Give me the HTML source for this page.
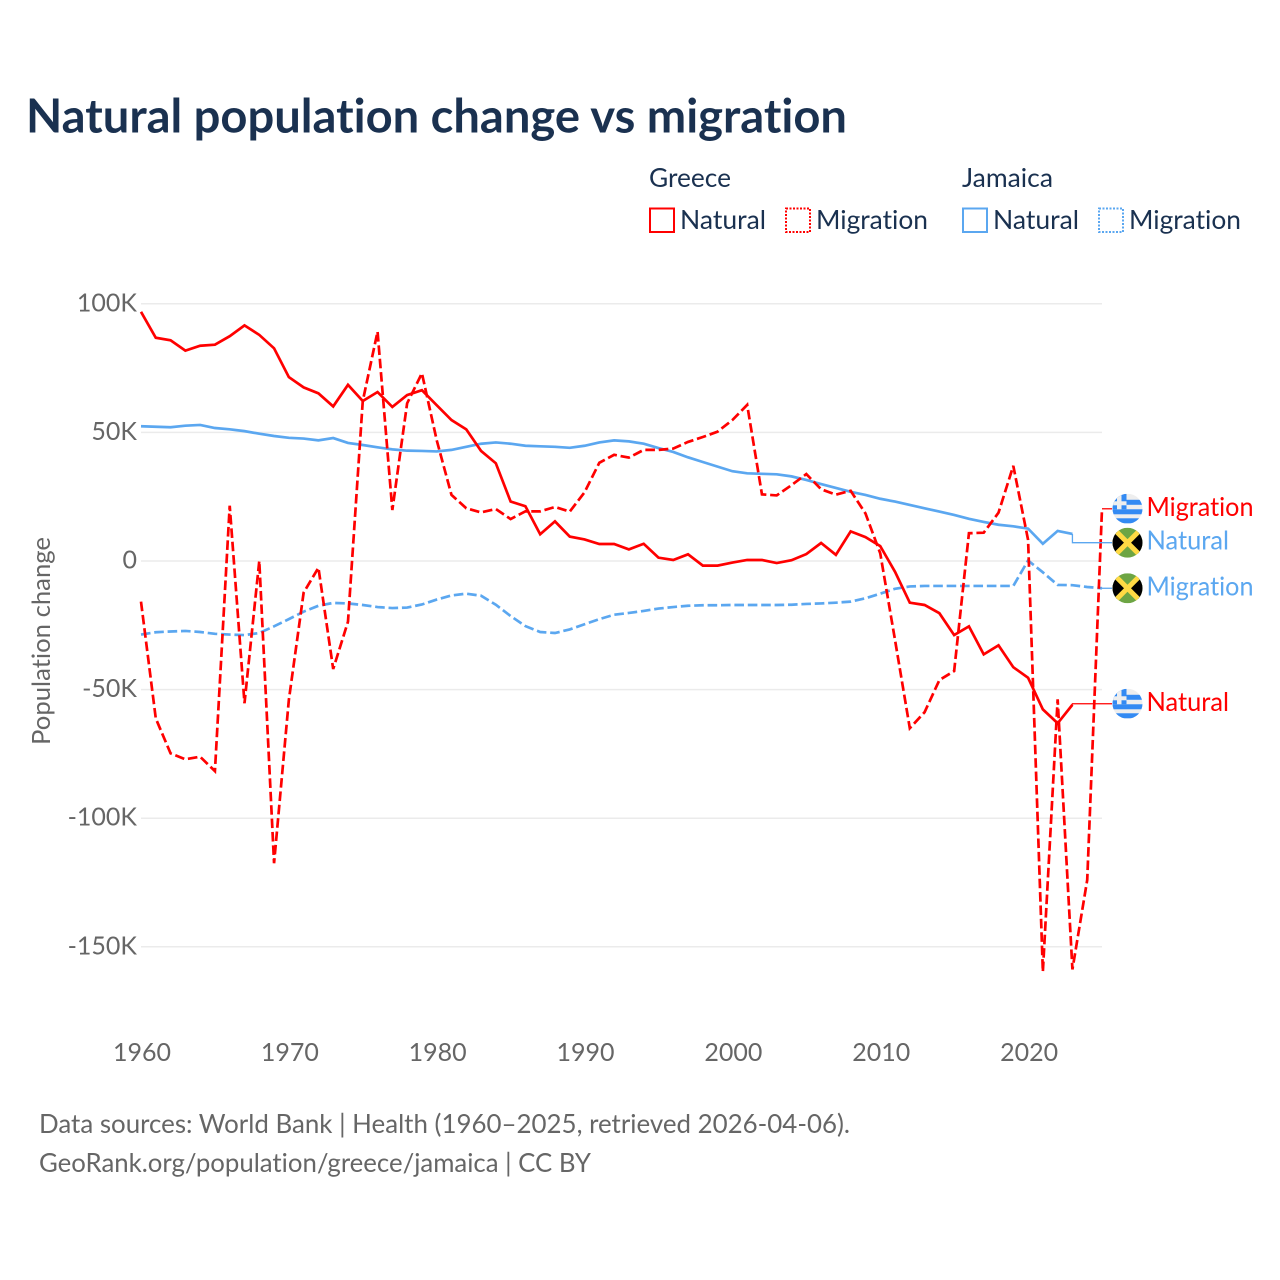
<!DOCTYPE html>
<html lang="en">
<head>
<meta charset="utf-8">
<title>Natural population change vs migration</title>
<style>
html,body{margin:0;padding:0;background:#fff;}
svg{display:block;font-family:"Lato","Carlito","Liberation Sans",sans-serif;font-variant-ligatures:none;font-feature-settings:"liga" 0,"clig" 0;}
.dark{fill:#1a3150;}
.gray{fill:#666;}
</style>
</head>
<body>
<svg id="chart" xmlns="http://www.w3.org/2000/svg" width="1280" height="1280" viewBox="0 0 1280 1280">
  <defs>
    <clipPath id="flag-clip"><circle cx="0" cy="0" r="15"/></clipPath>
    <g id="flag-gr">
      <g clip-path="url(#flag-clip)">
        <rect x="-15" y="-15" width="30" height="30" fill="#eeeeee"/>
        <rect x="-15" y="-9" width="30" height="5" fill="#338af3"/>
        <rect x="-15" y="0.500" width="30" height="5" fill="#338af3"/>
        <rect x="-15" y="9.500" width="30" height="5" fill="#338af3"/>
        <rect x="-15" y="-15" width="14" height="15.500" fill="#338af3"/>
        <rect x="-10.500" y="-15" width="4.500" height="15.500" fill="#eeeeee"/>
        <rect x="-15" y="-7.500" width="14" height="4" fill="#eeeeee"/>
      </g>
    </g>
    <g id="flag-jm">
      <g clip-path="url(#flag-clip)">
        <rect x="-15" y="-15" width="30" height="30" fill="#6da544"/>
        <path d="M-15,-15 L0,0 L-15,15 Z M15,-15 L0,0 L15,15 Z" fill="#000"/>
        <path d="M-15,-15 L15,15 M15,-15 L-15,15" stroke="#ffda44" stroke-width="5" fill="none"/>
      </g>
    </g>
  </defs>

  <text class="dark" x="26" y="132.500" font-size="47" font-weight="700" textLength="821" lengthAdjust="spacingAndGlyphs">Natural population change vs migration</text>

  <g>
    <text class="dark" x="649" y="187" font-size="26" textLength="82" lengthAdjust="spacingAndGlyphs">Greece</text>
    <text class="dark" x="962" y="187" font-size="26" textLength="91" lengthAdjust="spacingAndGlyphs">Jamaica</text>

    <rect x="650" y="208.500" width="24" height="23.500" fill="none" stroke="#ff0000" stroke-width="2"/>
    <text class="dark" x="680" y="229" font-size="26.500" textLength="86" lengthAdjust="spacingAndGlyphs">Natural</text>
    <rect x="786" y="208.500" width="24" height="23.500" fill="none" stroke="#ff0000" stroke-width="2" stroke-dasharray="2,1.500"/>
    <text class="dark" x="816" y="229" font-size="26.500" textLength="112" lengthAdjust="spacingAndGlyphs">Migration</text>

    <rect x="963" y="208.500" width="24" height="23.500" fill="none" stroke="#5ba7f0" stroke-width="2"/>
    <text class="dark" x="993" y="229" font-size="26.500" textLength="86" lengthAdjust="spacingAndGlyphs">Natural</text>
    <rect x="1099" y="208.500" width="24" height="23.500" fill="none" stroke="#5ba7f0" stroke-width="2" stroke-dasharray="2,1.500"/>
    <text class="dark" x="1129" y="229" font-size="26.500" textLength="112" lengthAdjust="spacingAndGlyphs">Migration</text>
  </g>

  <g id="grid"></g>
  <g id="y-axis"></g>
  <g id="x-axis"></g>
  <text class="gray" transform="translate(50,641) rotate(-90)" text-anchor="middle" font-size="25" textLength="208" lengthAdjust="spacingAndGlyphs">Population change</text>
  <g id="series"></g>
  <g id="end-labels"></g>

  <text class="gray" x="39" y="1133" font-size="26" textLength="811" lengthAdjust="spacingAndGlyphs">Data sources: World Bank | Health (1960–2025, retrieved 2026-04-06).</text>
  <text class="gray" x="39" y="1172" font-size="26" textLength="552" lengthAdjust="spacingAndGlyphs">GeoRank.org/population/greece/jamaica | CC BY</text>
</svg>

<script>
// Values in thousands of people, one per year starting at firstYear.
const firstYear = 1960;
const lastYear = 2025;
const yTicks = [100, 50, 0, -50, -100, -150];
const yTickLabels = ['100K', '50K', '0', '-50K', '-100K', '-150K'];
const xTicks = [1960, 1970, 1980, 1990, 2000, 2010, 2020];

const jamaicaMigration = [-28.6,-27.7,-27.4,-27.2,-27.6,-28.3,-28.6,-28.8,-28,-25.4,-22.6,-19.7,-17.4,-16.3,-16.5,-17.1,-17.9,-18.3,-18.1,-16.9,-15,-13.4,-12.7,-13.5,-17,-21.4,-25.3,-27.6,-28,-26.6,-24.6,-22.6,-20.9,-20.2,-19.4,-18.5,-17.9,-17.4,-17.2,-17.2,-17.1,-17.1,-17.1,-17.1,-17,-16.7,-16.5,-16.2,-15.8,-14.5,-12.7,-10.8,-9.9,-9.7,-9.7,-9.7,-9.7,-9.7,-9.7,-9.7,0.2,-4.4,-9.3,-9.4,-10.1,-10.6];
const jamaicaNatural = [52.4,52.2,52,52.6,52.9,51.7,51.2,50.5,49.5,48.6,47.9,47.6,46.9,47.8,45.9,45.1,44.2,43.4,42.9,42.8,42.6,43.2,44.4,45.6,46.1,45.6,44.8,44.6,44.4,44,44.8,46.1,46.9,46.5,45.6,43.9,42.4,40.3,38.5,36.7,34.9,34.1,33.9,33.7,32.9,31.5,29.9,28.4,26.9,25.7,24.2,23.1,21.8,20.5,19.2,17.9,16.4,15.2,14.1,13.5,12.6,6.7,11.7,10.5];
const greeceMigration = [-15.8,-61.2,-74.8,-77.1,-76.1,-81.7,21.5,-55.3,0,-117.5,-54,-12.3,-2.6,-42,-23.6,62.2,89.2,19.8,61.3,73,47,25.7,20.5,18.9,20.2,16.3,19.3,19.3,21,19.2,26.7,38.2,41.3,40.2,43.2,43.2,43.7,46.3,48.2,50.3,54.8,60.7,25.9,25.5,29.5,33.8,27.9,25.8,27.3,18.5,3,-30.7,-65,-58.8,-46.3,-42.8,10.8,11,18.8,37,8.2,-159.7,-53.8,-158.8,-124,20.3];
const greeceNatural = [96.9,86.8,85.8,81.8,83.7,84.1,87.4,91.6,87.9,82.7,71.5,67.5,65.2,60.1,68.5,62.2,65.7,59.9,64.5,66.4,60.6,54.8,51.2,42.8,38,23.1,21.3,10.4,15.4,9.5,8.4,6.6,6.6,4.5,6.7,1.3,0.4,2.6,-1.8,-1.8,-0.6,0.4,0.4,-0.8,0.3,2.7,7,2.4,11.5,9.3,5.8,-4.2,-16.2,-17.1,-20.3,-28.8,-25.4,-36.3,-32.8,-41.3,-45.4,-57.7,-63.1,-55.9];

const SVGNS = 'http://www.w3.org/2000/svg';
const xLeft = 141, xRight = 1102;
const yZero = 561, pxPerThousand = 2.572;
const RED = '#ff0000', BLUE = '#5ba7f0';

function xScale(year) { return xLeft + (year - firstYear) * (xRight - xLeft) / (lastYear - firstYear); }
function yScale(v) { return yZero - v * pxPerThousand; }
function make(tag, attrs, parent) {
  const el = document.createElementNS(SVGNS, tag);
  for (const k in attrs) el.setAttribute(k, attrs[k]);
  parent.appendChild(el);
  return el;
}

const grid = document.getElementById('grid');
const yAxis = document.getElementById('y-axis');
const xAxis = document.getElementById('x-axis');
const seriesGroup = document.getElementById('series');
const endLabels = document.getElementById('end-labels');

yTicks.forEach(function (t, i) {
  const line = make('line', {x1: xLeft, x2: xRight, y1: yScale(t), y2: yScale(t), stroke: '#ebebeb', 'stroke-width': 1.5}, grid);
  
  
  const label = make('text', {x: 137, y: yScale(t) + 7.5, 'text-anchor': 'end', 'font-size': 25, 'class': 'gray'}, yAxis);
  
  
  label.textContent = yTickLabels[i];
});

xTicks.forEach(function (t) {
  const label = make('text', {x: xScale(t) + 1, y: 1061, 'text-anchor': 'middle', 'font-size': 25, 'class': 'gray'}, xAxis);
  
  
  label.textContent = t;
});

function drawSeries(values, color, dashed, name) {
  const pts = values.map(function (v, i) { return xScale(firstYear + i).toFixed(2) + ',' + yScale(v).toFixed(2); });
  const attrs = {points: pts.join(' '), fill: 'none', stroke: color, 'stroke-width': 2.7, 'stroke-linejoin': 'miter'};
  if (dashed) attrs['stroke-dasharray'] = '9.6,3.8';
  const line = make('polyline', attrs, seriesGroup);
  
  
}

function drawEndLabel(values, color, flag, text, dodge, name) {
  const lastX = xScale(firstYear + values.length - 1);
  const lastY = yScale(values[values.length - 1]);
  const labelY = lastY + dodge;
  const connector = make('polyline', {points: lastX + ',' + lastY + ' ' + lastX + ',' + labelY + ' 1112,' + labelY, fill: 'none', stroke: color, 'stroke-width': 1.3}, endLabels);
  
  
  const icon = make('use', {href: '#' + flag, transform: 'translate(1127.500,' + labelY + ')'}, endLabels);
  
  
  const label = make('text', {x: 1146.5, y: labelY + 7, fill: color, 'font-size': 26.5, textLength: text === 'Natural' ? 82.5 : 107, lengthAdjust: 'spacingAndGlyphs'}, endLabels);
  
  
  label.textContent = text;
}

drawSeries(jamaicaMigration, BLUE, true, 'line-jamaica-migration');
drawSeries(jamaicaNatural, BLUE, false, 'line-jamaica-natural');
drawSeries(greeceMigration, RED, true, 'line-greece-migration');
drawSeries(greeceNatural, RED, false, 'line-greece-natural');

drawEndLabel(greeceMigration, RED, 'flag-gr', 'Migration', 0, 'end-greece-migration');
drawEndLabel(jamaicaNatural, BLUE, 'flag-jm', 'Natural', 8.7, 'end-jamaica-natural');
drawEndLabel(jamaicaMigration, BLUE, 'flag-jm', 'Migration', 0, 'end-jamaica-migration');
drawEndLabel(greeceNatural, RED, 'flag-gr', 'Natural', -1, 'end-greece-natural');
</script>
</body>
</html>
